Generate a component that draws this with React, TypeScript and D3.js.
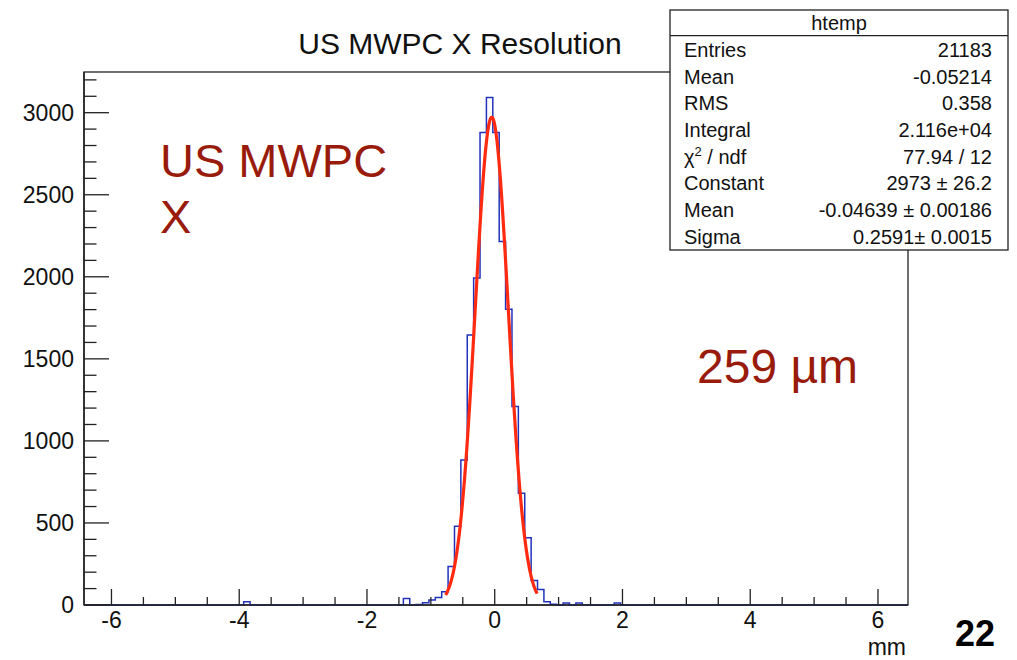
import React from "react";
import * as d3 from "d3";

// ---- data ----
const histLow = -6.43;
const histHigh = 6.47;
const binWidth = 0.1;
// non-empty bins (bin centers, mm) and their counts
const binCenters = [-3.88, -1.38, -1.18, -1.08, -0.98, -0.88, -0.78, -0.68, -0.58, -0.48, -0.38, -0.28, -0.18, -0.08, 0.02, 0.12, 0.22, 0.32, 0.42, 0.52, 0.62, 0.72, 0.82, 0.92, 1.12, 1.32, 1.92];
const binCounts = [20, 40, 3, 14, 30, 45, 80, 234, 480, 884, 1646, 1992, 2880, 3093, 2880, 2215, 1803, 1209, 681, 410, 150, 95, 20, 5, 12, 12, 12];

const yMax = 3248;
const xTicks = [-6, -4, -2, 0, 2, 4, 6];
const yTicks = [0, 500, 1000, 1500, 2000, 2500, 3000];

// Gaussian fit parameters (from the stats box)
const fitConstant = 2973;
const fitMean = -0.04639;
const fitSigma = 0.2591;
const fitRange = [-0.768, 0.664];

const statsTitle = "htemp";
const statLabels = ["Entries", "Mean", "RMS", "Integral", "CHI", "Constant", "Mean", "Sigma"];
const statValues = ["21183", "-0.05214", "0.358", "2.116e+04", "77.94 / 12", "2973 \u00b1 26.2", "-0.04639 \u00b1 0.00186", "0.2591\u00b1 0.0015"];

const FONT = "'Liberation Sans', Arial, Helvetica, sans-serif";

export default function App() {
  const W = 1017, H = 660;
  const left = 84, right = 908, top = 72, bottom = 605;
  const x = d3.scaleLinear().domain([histLow, histHigh]).range([left, right]);
  const y = d3.scaleLinear().domain([0, yMax]).range([bottom, top]);

  // build full histogram
  const nBins = Math.round((histHigh - histLow) / binWidth);
  const counts = new Array(nBins).fill(0);
  binCenters.forEach((c, i) => {
    const k = Math.floor((c - histLow) / binWidth);
    if (k >= 0 && k < nBins) counts[k] = binCounts[i];
  });
  const path = d3.path();
  path.moveTo(x(histLow), y(0));
  counts.forEach((c, k) => {
    const lo = histLow + k * binWidth;
    const hi = lo + binWidth;
    path.lineTo(x(lo), y(c));
    path.lineTo(x(hi), y(c));
  });
  path.lineTo(x(histHigh), y(0));

  // fit function
  const nPts = 100;
  const fitPts = d3.range(nPts + 1).map((i) => {
    const xv = fitRange[0] + ((fitRange[1] - fitRange[0]) * i) / nPts;
    const yv = fitConstant * Math.exp(-((xv - fitMean) ** 2) / (2 * fitSigma * fitSigma));
    return [xv, yv] as [number, number];
  });
  const fitLine = d3.line<[number, number]>().x((d) => x(d[0])).y((d) => y(d[1]));

  // ticks
  const xMinor = d3.range(-6.5, 6.51, 0.5).filter((v) => x(v) >= left && x(v) <= right);
  const yMinor = d3.range(0, yMax, 100);

  const axisColor = "#222";

  // stats box geometry
  const bx = 670, by = 10, bw = 338, bh = 240;
  const rowH = bh / 9;

  return (
    <svg width={W} height={H} style={{ position: "absolute", left: 0, top: 0, background: "#fff" }} fontFamily={FONT}>
      <rect x={0} y={0} width={W} height={H} fill="#fff" />
      {/* frame */}
      <rect x={left} y={top} width={right - left} height={bottom - top} fill="none" stroke={axisColor} strokeWidth={1.3} />
      {/* histogram */}
      <path d={path.toString()} fill="none" stroke="#2233bb" strokeWidth={1.5} />
      {/* fit */}
      <path d={fitLine(fitPts) || ""} fill="none" stroke="#ff2a10" strokeWidth={3.2} strokeLinejoin="round" />
      {/* x axis */}
      <line x1={left} x2={right} y1={bottom} y2={bottom} stroke={axisColor} strokeWidth={1.5} />
      {xMinor.map((v, i) => {
        const major = Math.abs(v / 2 - Math.round(v / 2)) < 1e-6;
        return <line key={"xm" + i} x1={x(v)} x2={x(v)} y1={bottom} y2={bottom - (major ? 16 : 8)} stroke={axisColor} strokeWidth={1.3} />;
      })}
      {xTicks.map((v) => (
        <text key={"xt" + v} x={x(v)} y={628} fontSize={23} textAnchor="middle" fill="#111">{v}</text>
      ))}
      <text x={906} y={655} fontSize={23} textAnchor="end" fill="#111">mm</text>
      {/* y axis */}
      <line x1={left} x2={left} y1={top} y2={bottom} stroke={axisColor} strokeWidth={1.5} />
      {yMinor.map((v) => {
        const major = v % 500 === 0;
        return <line key={"ym" + v} x1={left} x2={left + (major ? 25 : 12.5)} y1={y(v)} y2={y(v)} stroke={axisColor} strokeWidth={1.3} />;
      })}
      {yTicks.map((v) => (
        <text key={"yt" + v} x={74} y={y(v) + 8} fontSize={23} textAnchor="end" fill="#111">{v}</text>
      ))}
      {/* title */}
      <text x={460} y={54} fontSize={30} textAnchor="middle" fill="#111">US MWPC X Resolution</text>
      {/* annotations */}
      <text x={160} y={177} fontSize={47} fill="#991b0c">US MWPC</text>
      <text x={160} y={233} fontSize={47} fill="#991b0c">X</text>
      <text x={697} y={383} fontSize={48} fill="#991b0c">259 µm</text>
      <text x={995} y={646} fontSize={36} fontWeight="bold" textAnchor="end" fill="#000">22</text>
      {/* stats box */}
      <rect x={bx} y={by} width={bw} height={bh} fill="#fff" stroke={axisColor} strokeWidth={1.3} />
      <line x1={bx} x2={bx + bw} y1={by + rowH - 1} y2={by + rowH - 1} stroke={axisColor} strokeWidth={1.3} />
      <text x={bx + bw / 2} y={by + rowH / 2 + 7} fontSize={20} textAnchor="middle" fill="#111">{statsTitle}</text>
      {statLabels.map((lab, i) => {
        const cy = by + rowH * (i + 1.5);
        return (
          <g key={"st" + i}>
            <text x={684} y={cy + 7} fontSize={20} fill="#111">
              {lab === "CHI" ? (
                <>
                  {"\u03c7"}
                  <tspan fontSize={13} dy={-8}>2</tspan>
                  <tspan dy={8}>{" / ndf"}</tspan>
                </>
              ) : (
                lab
              )}
            </text>
            <text x={992} y={cy + 7} fontSize={20} textAnchor="end" fill="#111">{statValues[i]}</text>
          </g>
        );
      })}
    </svg>
  );
}
